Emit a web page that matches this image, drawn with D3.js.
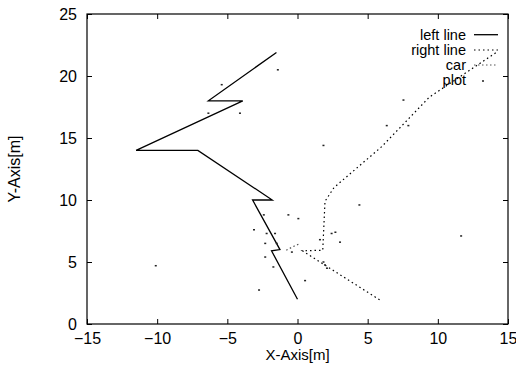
<!DOCTYPE html>
<html>
<head>
<meta charset="utf-8">
<script src="https://cdn.jsdelivr.net/npm/d3@7"></script>
<style>
  html, body { margin: 0; padding: 0; background: #fff; }
  svg { display: block; }
  text { font-family: "Liberation Sans", Arial, Helvetica, sans-serif; fill: #000; }
</style>
</head>
<body>
<svg id="chart" width="516" height="366"></svg>
<script>
// ---- data ----
const xTicks = [-15, -10, -5, 0, 5, 10, 15];
const yTicks = [0, 5, 10, 15, 20, 25];
const legendLabels = ["left line", "right line", "car", "plot"];

const leftLineX = [0.0, -1.85, -1.25, -3.2, -1.8, -7.1, -11.5, -3.9, -6.35, -1.5];
const leftLineY = [2.0, 5.9, 6.0, 10.0, 10.0, 14.0, 14.0, 18.0, 18.0, 21.9];

const rightLineX = [5.85, 0.35, 1.8, 1.96, 2.6, 6.0, 9.4, 14.3];
const rightLineY = [1.95, 5.9, 5.95, 9.9, 11.0, 14.3, 18.3, 22.0];

const carX = [-0.8, -0.3, 0.1];
const carY = [5.95, 6.25, 6.45];

const plotX = [-5.4, -6.35, -4.1, -1.4, 7.55, 6.36, 7.9, 1.85, -10.1, -3.1, -2.74, 4.41, 3.03, 11.66, 0.54, 0.06, -0.65, -2.2, -1.6, -2.3, -2.3, -1.48, -0.4, 2.43, 1.96, -1.72, 2.7, 1.85, -2.4, 2.1, 1.6];
const plotY = [19.3, 17.0, 17.0, 20.5, 18.06, 16.0, 16.0, 14.4, 4.7, 7.6, 2.74, 9.6, 6.6, 7.1, 3.5, 8.5, 8.8, 7.3, 7.3, 6.5, 5.4, 6.5, 5.8, 7.3, 4.76, 4.6, 7.4, 5.0, 8.8, 4.5, 6.8];

// ---- layout ----
const svg = d3.select("#chart");
const L = 87, R = 508, T = 14, B = 324;
const x = d3.scaleLinear().domain([-15, 15]).range([L, R]);
const y = d3.scaleLinear().domain([0, 25]).range([B, T]);

const zip = (xs, ys) => xs.map((v, i) => [v, ys[i]]);
const line = d3.line().x(d => x(d[0])).y(d => y(d[1]));

// axes (inward ticks)
const gx = svg.append("g").attr("transform", `translate(0,${B})`)
  .call(d3.axisBottom(x).tickValues(xTicks).tickSizeInner(-5).tickSizeOuter(0).tickPadding(9));
const gy = svg.append("g").attr("transform", `translate(${L},0)`)
  .call(d3.axisLeft(y).tickValues(yTicks).tickSizeInner(-5).tickSizeOuter(0).tickPadding(10));
const gxt = svg.append("g").attr("transform", `translate(0,${T})`)
  .call(d3.axisTop(x).tickValues(xTicks).tickSizeInner(-5).tickSizeOuter(0).tickFormat(""));
const gyr = svg.append("g").attr("transform", `translate(${R},0)`)
  .call(d3.axisRight(y).tickValues(yTicks).tickSizeInner(-5).tickSizeOuter(0).tickFormat(""));

[gx, gy, gxt, gyr].forEach(g => {
  g.select(".domain").remove();
  g.selectAll("line").attr("stroke", "#000");
  g.selectAll("text").attr("font-size", 16).attr("font-family", '"Liberation Sans", Arial, sans-serif').attr("fill", "#000");
});
gx.selectAll("text").attr("dy", "0.71em");

// frame
svg.append("rect").attr("x", L).attr("y", T).attr("width", R - L).attr("height", B - T)
  .attr("fill", "none").attr("stroke", "#000").attr("stroke-width", 1.2);

// axis titles
svg.append("text").attr("x", (L + R) / 2).attr("y", 360).attr("text-anchor", "middle")
  .attr("font-size", 15).text("X-Axis[m]");
svg.append("text").attr("transform", `translate(20,${(T + B) / 2}) rotate(-90)`)
  .attr("text-anchor", "middle").attr("font-size", 16).text("Y-Axis[m]");

// series
svg.append("path").datum(zip(leftLineX, leftLineY)).attr("d", line)
  .attr("fill", "none").attr("stroke", "#000").attr("stroke-width", 1.3);
svg.append("path").datum(zip(rightLineX, rightLineY)).attr("d", line)
  .attr("fill", "none").attr("stroke", "#000").attr("stroke-width", 1.2).attr("stroke-dasharray", "1.5,3");
svg.append("path").datum(zip(carX, carY)).attr("d", line)
  .attr("fill", "none").attr("stroke", "#555").attr("stroke-width", 1.2).attr("stroke-dasharray", "1.5,2.5");
svg.append("g").selectAll("rect").data(zip(plotX, plotY)).join("rect")
  .attr("x", d => x(d[0]) - 1).attr("y", d => y(d[1]) - 0.75)
  .attr("width", 2).attr("height", 1.5).attr("fill", "#222");

// legend
const legBase = [39.5, 55, 70, 85];
const legMid = [34.7, 50, 65, 81];
const lg = svg.append("g");
legendLabels.forEach((lab, i) => {
  lg.append("text").attr("x", 466).attr("y", legBase[i]).attr("text-anchor", "end")
    .attr("font-size", 14.5).text(lab);
});
lg.append("line").attr("x1", 474).attr("x2", 498).attr("y1", legMid[0]).attr("y2", legMid[0])
  .attr("stroke", "#000").attr("stroke-width", 1.3);
lg.append("line").attr("x1", 474).attr("x2", 498).attr("y1", legMid[1]).attr("y2", legMid[1])
  .attr("stroke", "#000").attr("stroke-width", 1.2).attr("stroke-dasharray", "1.5,3");
lg.append("line").attr("x1", 474).attr("x2", 498).attr("y1", legMid[2]).attr("y2", legMid[2])
  .attr("stroke", "#555").attr("stroke-width", 1.2).attr("stroke-dasharray", "1.5,2.5");
lg.append("rect").attr("x", 482).attr("y", legMid[3] - 0.75).attr("width", 2).attr("height", 1.5).attr("fill", "#222");
</script>
</body>
</html>
